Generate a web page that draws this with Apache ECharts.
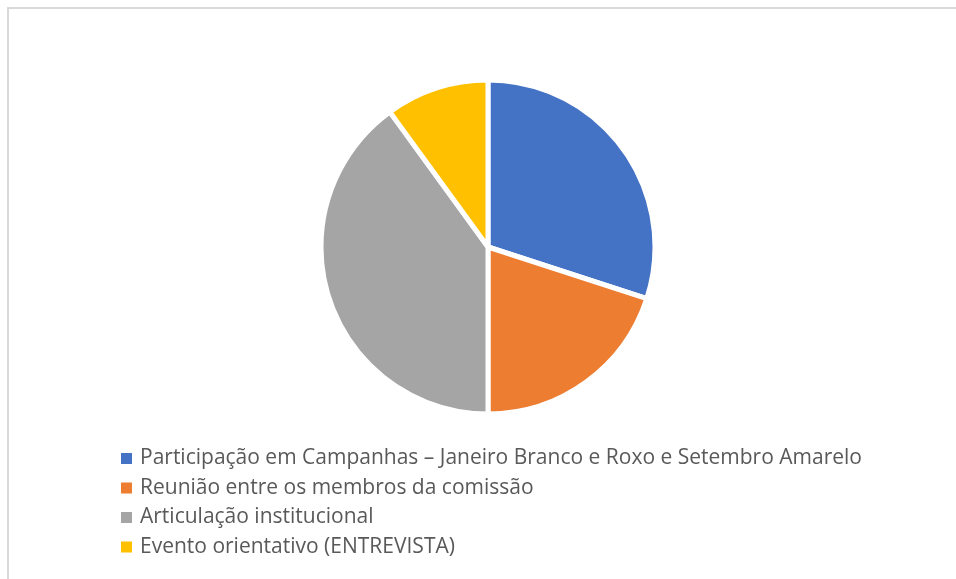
<!DOCTYPE html>
<html>
<head>
<meta charset="utf-8">
<script src="https://cdn.jsdelivr.net/npm/echarts@6/dist/echarts.min.js"></script>
<style>
  html, body { margin: 0; padding: 0; background: #fff; }
  #chart { width: 956px; height: 579px; }
</style>
</head>
<body>
<div id="chart"></div>
<script>
const categories = [
  'Participação em Campanhas – Janeiro Branco e Roxo e Setembro Amarelo',
  'Reunião entre os membros da comissão',
  'Articulação institucional',
  'Evento orientativo (ENTREVISTA)'
]
const values = [30, 20, 40, 10]
const colors = ['#4472c4', '#ed7d31', '#a5a5a5', '#ffc000']

const chart = echarts.init(document.getElementById('chart'))
chart.setOption({
  animation: false,
  color: colors,
  graphic: [
    {
      type: 'line',
      shape: { x1: 7, y1: 8, x2: 956, y2: 8 },
      style: { stroke: '#d9d9d9', lineWidth: 2 }
    },
    {
      type: 'line',
      shape: { x1: 8, y1: 7, x2: 8, y2: 579 },
      style: { stroke: '#d9d9d9', lineWidth: 2 }
    }
  ],
  legend: {
    orient: 'vertical',
    left: 114,
    top: 443,
    itemWidth: 13,
    itemHeight: 13,
    itemGap: 8.5,
    icon: 'rect',
    textStyle: {
      fontFamily: 'Open Sans',
      fontSize: 21,
      lineHeight: 21,
      color: '#595959',
      padding: [0, 0, 0, 2]
    },
    data: categories
  },
  series: [
    {
      type: 'pie',
      center: [488, 247],
      radius: 167,
      startAngle: 90,
      clockwise: true,
      label: { show: false },
      labelLine: { show: false },
      itemStyle: { borderColor: '#fff', borderWidth: 5 },
      data: categories.map((name, i) => ({ name, value: values[i] }))
    }
  ]
})
</script>
</body>
</html>
